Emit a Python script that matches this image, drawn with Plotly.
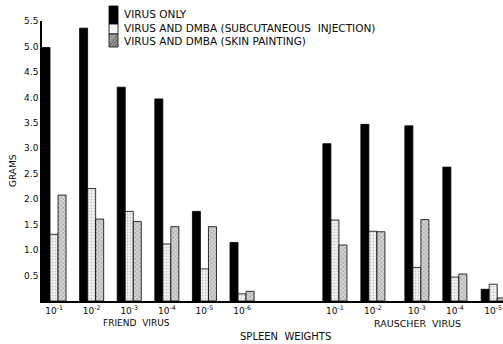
import plotly.graph_objects as go

# ---- data ----
friend_labels = ["10<sup>-1</sup>", "10<sup>-2</sup>", "10<sup>-3</sup>", "10<sup>-4</sup>", "10<sup>-5</sup>", "10<sup>-6</sup>"]
rauscher_labels = ["10<sup>-1</sup>", "10<sup>-2</sup>", "10<sup>-3</sup>", "10<sup>-4</sup>", "10<sup>-5</sup>"]

virus_only = [4.98, 5.36, 4.20, 3.97, 1.76, 1.15, 3.09, 3.47, 3.44, 2.63, 0.23]
dmba_subcut = [1.31, 2.21, 1.76, 1.12, 0.63, 0.14, 1.59, 1.37, 0.66, 0.47, 0.33]
dmba_skin = [2.08, 1.61, 1.56, 1.46, 1.46, 0.19, 1.10, 1.36, 1.60, 0.53, 0.06]

series_names = ["VIRUS ONLY", "VIRUS AND DMBA (SUBCUTANEOUS  INJECTION)", "VIRUS AND DMBA (SKIN PAINTING)"]
y_ticks = [0.5, 1.0, 1.5, 2.0, 2.5, 3.0, 3.5, 4.0, 4.5, 5.0, 5.5]

# group positions along the x axis (layout: Friend groups, gap, Rauscher groups)
group_pos = [0, 1, 2, 3, 4, 5, 7.47, 8.48, 9.65, 10.66, 11.68]
tick_text = friend_labels + rauscher_labels

FONT = "DejaVu Sans"
INK = "#0a0a0a"

# layout geometry (pixels)
W, H = 503, 344
ML, MR, MT, MB = 42, 0, 21, 43
PW, PH = W - ML - MR, H - MT - MB


def px_x(px):
    return (px - ML) / PW


def px_y(py):
    return (H - MB - py) / PH


fills = [
    dict(color="black", line=dict(color="black", width=0.8)),
    dict(color="#ececec", line=dict(color="black", width=0.8),
         pattern=dict(shape=".", fgcolor="#999999", bgcolor="#f4f4f4", size=3, solidity=0.3)),
    dict(color="#888888", line=dict(color="black", width=0.8),
         pattern=dict(shape="x", fgcolor="#444444", bgcolor="#d6d6d6", size=3, solidity=0.3)),
]

fig = go.Figure()
for name, vals, mk in zip(series_names, [virus_only, dmba_subcut, dmba_skin], fills):
    fig.add_trace(go.Bar(x=group_pos, y=vals, name=name, marker=mk, showlegend=False,
                         hoverinfo="skip"))

fig.update_layout(
    width=W, height=H,
    margin=dict(l=ML, r=MR, t=MT, b=MB, autoexpand=False),
    paper_bgcolor="white", plot_bgcolor="white",
    barmode="group", bargap=0.36, bargroupgap=0,
    font=dict(family=FONT, size=9, color=INK),
    showlegend=False,
    xaxis=dict(range=[-0.32, 11.94], tickmode="array", tickvals=group_pos, ticktext=tick_text,
               showline=True, linecolor="black", linewidth=2, showgrid=False, zeroline=False,
               ticks="", automargin=False, tickfont=dict(family=FONT, size=9, color=INK)),
    yaxis=dict(range=[0, 5.5], tickmode="array", tickvals=y_ticks,
               ticktext=[f"{v:.1f}" for v in y_ticks],
               showline=True, linecolor="black", linewidth=1.5, showgrid=False, zeroline=False,
               ticks="", automargin=False, tickfont=dict(family=FONT, size=9, color=INK)),
)

# ---- hand-drawn legend (stacked swatch column + labels) ----
sw_x0, sw_x1 = 109, 118
sw_rows = [(6, 24), (24, 34), (34, 47)]
sw_fill = ["black", "#f2f2f2", "#9a9a9a"]
for (y0, y1), fc in zip(sw_rows, sw_fill):
    fig.add_shape(type="rect", xref="paper", yref="paper",
                  x0=px_x(sw_x0), x1=px_x(sw_x1), y0=px_y(y1), y1=px_y(y0),
                  fillcolor=fc, line=dict(color="black", width=0.8))
# diagonal hatch on the third swatch
for k in range(4):
    xa = sw_x0 + k * 3
    xb = min(xa + 9, sw_x1)
    fig.add_shape(type="line", xref="paper", yref="paper",
                  x0=px_x(xa), y0=px_y(47), x1=px_x(xb), y1=px_y(47 - (xb - xa) * 13 / 9),
                  line=dict(color="#444444", width=0.7))
text_rows = [14, 28, 41]
for name, ty in zip(series_names, text_rows):
    fig.add_annotation(text=name, xref="paper", yref="paper", x=px_x(122), y=px_y(ty),
                       xanchor="left", yanchor="middle", showarrow=False,
                       font=dict(family=FONT, size=10.5, color=INK))

ann_font = dict(family=FONT, size=9, color=INK)
fig.add_annotation(text="GRAMS", xref="paper", yref="paper", x=px_x(13), y=px_y(170),
                   textangle=-90, showarrow=False, xanchor="center", yanchor="middle", font=ann_font)
fig.add_annotation(text="FRIEND  VIRUS", xref="paper", yref="paper", x=px_x(136), y=px_y(323),
                   xanchor="center", yanchor="middle", showarrow=False, font=ann_font)
fig.add_annotation(text="RAUSCHER  VIRUS", xref="paper", yref="paper", x=px_x(417), y=px_y(323),
                   xanchor="center", yanchor="middle", showarrow=False,
                   font=dict(family=FONT, size=9.5, color=INK))
fig.add_annotation(text="SPLEEN  WEIGHTS", xref="paper", yref="paper", x=px_x(285), y=px_y(336),
                   xanchor="center", yanchor="middle", showarrow=False,
                   font=dict(family=FONT, size=10, color=INK))

fig.write_html("out.html", config={"displayModeBar": False},
               post_script="document.body.style.margin='0';document.body.style.overflow='hidden';")
